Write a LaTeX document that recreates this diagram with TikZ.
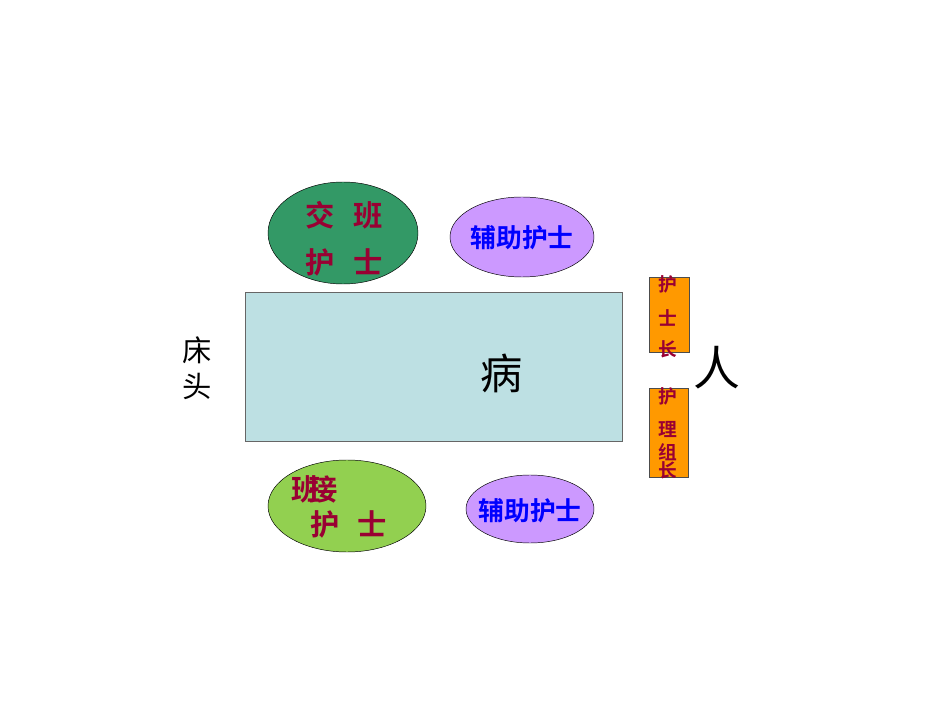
\documentclass[tikz,border=0pt]{standalone}
\usepackage{fontspec}
\newfontfamily\cjk{Noto Sans CJK SC}[BoldFont={Noto Sans CJK SC Bold}]
\usetikzlibrary{shapes}
\usetikzlibrary{positioning}
\definecolor{bedblue}{HTML}{BDE0E3}
\definecolor{darkgreen}{HTML}{339966}
\definecolor{lightgreen}{HTML}{92D050}
\definecolor{lilac}{HTML}{CC99FF}
\definecolor{nurseorange}{HTML}{FF9900}
\definecolor{wine}{HTML}{990033}
\tikzset{
  nurse/.style = {
    ellipse,
    draw=black,
    inner sep=0pt
  },
  sidebox/.style = {
    rectangle,
    draw=black!70,
    fill=nurseorange,
    inner sep=0pt
  },
  word/.style = {
    inner sep=0pt,
    font=\cjk\fontsize{#1}{#1}\selectfont
  },
  boldword/.style = {
    inner sep=0pt,
    text=wine,
    font=\cjk\bfseries\fontsize{#1}{#1}\selectfont
  },
  helper/.style = {
    inner sep=0pt,
    text=blue,
    font=\cjk\bfseries\fontsize{22pt}{22pt}\selectfont
  },
}
\begin{document}
\begin{tikzpicture}[x=0.03cm,y=-0.03cm]
  \useasboundingbox (0,0) rectangle (950,713);

  % bed
  \node [rectangle,draw=black!60,fill=bedblue,minimum width=377*0.03cm,minimum height=149*0.03cm,inner sep=0pt] (bed) at (433.5,366.5) {};
  \node [word=36pt] (bing) at (502,373) {病};
  \node [word=40pt] (ren) at (717,368) {人};
  \node [word=25pt] (chuang) at (197,350) {床};
  \node [word=25pt] (tou) at (197,386) {头};

  % handover nurse
  \node [nurse,fill=darkgreen,minimum width=150*0.03cm,minimum height=102*0.03cm] (handover) at (343,233) {};
  \node [boldword=25pt] (jiao) at (320,215) {交};
  \node [boldword=25pt] (ban) at (368,215) {班};
  \node [boldword=25pt] (hu1) at (320,262) {护};
  \node [boldword=25pt] (shi1) at (368,262) {士};

  % receiving nurse
  \node [nurse,fill=lightgreen,minimum width=158*0.03cm,minimum height=92*0.03cm] (receiver) at (347,506) {};
  \node [boldword=25pt] (ban2) at (306,489) {班};
  \node [boldword=25pt] (jie) at (323,489) {接};
  \node [boldword=25pt] (hu2) at (325,524) {护};
  \node [boldword=25pt] (shi2) at (372,524) {士};

  % assistants
  \node [nurse,fill=lilac,minimum width=144*0.03cm,minimum height=80*0.03cm] (assist1) at (522,237) {};
  \node [helper] (assist1text) at (522,238) {辅助护士};
  \node [nurse,fill=lilac,minimum width=128*0.03cm,minimum height=68*0.03cm] (assist2) at (530,509) {};
  \node [helper] (assist2text) at (530,511) {辅助护士};

  % head nurse
  \node [sidebox,minimum width=40*0.03cm,minimum height=75*0.03cm] (headnurse) at (669,314.5) {};
  \node [boldword=16pt] (hz1) at (668,284) {护};
  \node [boldword=16pt] (hz2) at (668,318) {士};
  \node [boldword=16pt] (hz3) at (668,349) {长};

  % team leader
  \node [sidebox,minimum width=39*0.03cm,minimum height=89*0.03cm] (teamlead) at (668.5,432.5) {};
  \node [boldword=16pt] (tl1) at (668,396) {护};
  \node [boldword=16pt] (tl2) at (668,429) {理};
  \node [boldword=16pt] (tl3) at (668,452) {组};
  \node [boldword=16pt] (tl4) at (668,470) {长};
\end{tikzpicture}
\end{document}
